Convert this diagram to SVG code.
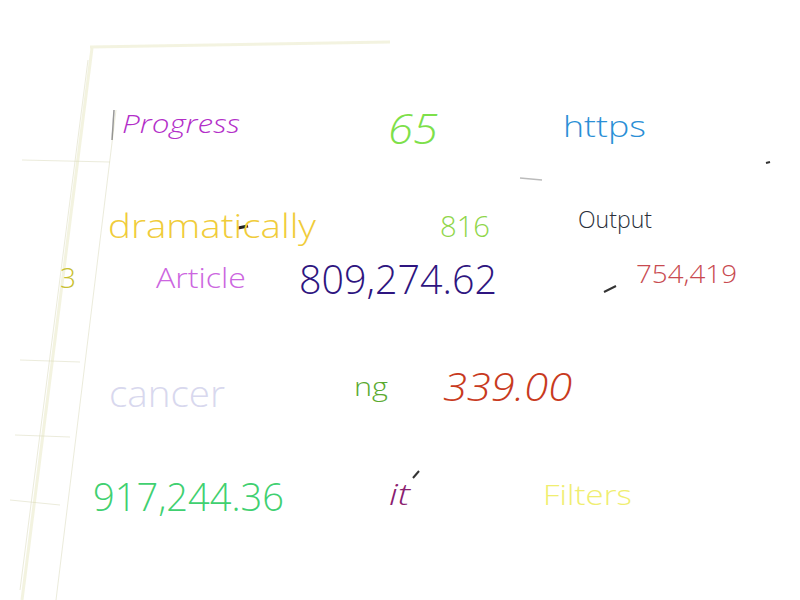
<svg xmlns="http://www.w3.org/2000/svg" width="800" height="600" viewBox="0 0 800 600">
<style>
text{font-family:"Open Sans","Lato","DejaVu Sans",sans-serif;font-weight:350}
.i{font-style:italic}
.paper{fill:none;stroke:#f0f0d8;stroke-width:3;opacity:0.8}
.faint{fill:none;stroke:#d8d8b8;stroke-width:1;opacity:0.5}
</style>
<rect width="800" height="600" fill="#ffffff"/>
<g id="paper">
<path class="paper" d="M90 47 L390 42"/>
<path class="paper" d="M92 48 L22 600"/>
<path class="faint" d="M88 60 L20 590"/>
<path class="faint" d="M116 110 L56 600"/>
<path class="faint" d="M22 160 L110 162"/>
<path class="faint" d="M20 360 L80 362"/>
<path class="faint" d="M15 435 L70 437"/>
<path class="faint" d="M10 500 L60 505"/>
<path d="M114 110 L112 140" stroke="#555" stroke-width="1.5" opacity="0.6"/>
<path d="M238 228 L248 226" stroke="#222" stroke-width="3"/>
<path d="M604 292 L616 286" stroke="#333" stroke-width="2"/>
<path d="M413 478 L419 471" stroke="#333" stroke-width="2"/>
<path d="M520 178 L542 180" stroke="#bbb" stroke-width="1.5"/>
<path d="M766 163 L770 162" stroke="#333" stroke-width="2"/>
</g>
<g id="t1"><text class="i" x="122" y="133" font-size="26" fill="#b32fc9" textLength="118" lengthAdjust="spacingAndGlyphs">Progress</text></g>
<g id="t2"><text class="i" x="388" y="144" font-size="42" fill="#7de04a" textLength="50" lengthAdjust="spacingAndGlyphs">65</text></g>
<g id="t3"><text x="563" y="137" font-size="30" fill="#2a8fd6" textLength="83" lengthAdjust="spacingAndGlyphs">https</text></g>
<g id="t4"><text x="108" y="238" font-size="33" fill="#f0cc3a" textLength="208" lengthAdjust="spacingAndGlyphs">dramatically</text></g>
<g id="t5"><text x="440" y="237" font-size="30" fill="#8fd64a" textLength="50" lengthAdjust="spacingAndGlyphs">816</text></g>
<g id="t6"><text x="578" y="228" font-size="24" fill="#2a2f3a" textLength="74" lengthAdjust="spacingAndGlyphs">Output</text></g>
<g id="t7"><text x="60" y="288" font-size="28" fill="#c8c030" textLength="16" lengthAdjust="spacingAndGlyphs">3</text></g>
<g id="t8"><text x="156" y="288" font-size="28" fill="#cc66e0" textLength="90" lengthAdjust="spacingAndGlyphs">Article</text></g>
<g id="t9"><text x="299" y="294" font-size="40" fill="#2e1580" textLength="198" lengthAdjust="spacingAndGlyphs">809,274.62</text></g>
<g id="t10"><text x="636" y="283" font-size="26" fill="#c84a50" textLength="101" lengthAdjust="spacingAndGlyphs">754,419</text></g>
<g id="t11"><text x="109" y="407" font-size="36" fill="#d8d8ee" textLength="116" lengthAdjust="spacingAndGlyphs">cancer</text></g>
<g id="t12"><text x="354" y="396" font-size="26" fill="#5aaa30" textLength="34" lengthAdjust="spacingAndGlyphs">ng</text></g>
<g id="t13"><text class="i" x="443" y="401" font-size="38" fill="#c83a1e" textLength="129" lengthAdjust="spacingAndGlyphs">339.00</text></g>
<g id="t14"><text x="93" y="511" font-size="38" fill="#40d070" textLength="191" lengthAdjust="spacingAndGlyphs">917,244.36</text></g>
<g id="t15"><text class="i" x="389" y="505" font-size="30" fill="#8a2070" textLength="21" lengthAdjust="spacingAndGlyphs">it</text></g>
<g id="t16"><text x="543" y="505" font-size="28" fill="#f0ee70" textLength="89" lengthAdjust="spacingAndGlyphs">Filters</text></g>
</svg>
